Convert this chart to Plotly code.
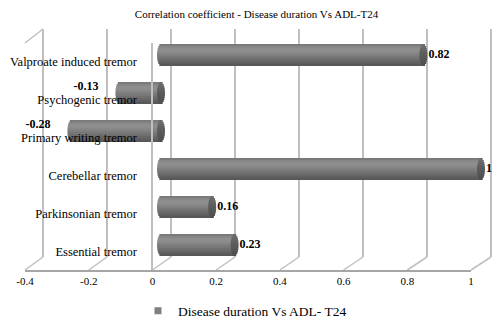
import math
import plotly.graph_objects as go

# ---------------- data ----------------
TITLE = "Correlation coefficient - Disease duration Vs ADL-T24"
SERIES_NAME = "Disease duration Vs ADL- T24"
CATEGORIES = ["Essential tremor", "Parkinsonian tremor", "Cerebellar tremor",
              "Primary writing tremor", "Psychogenic tremor", "Valproate induced tremor"]
VALUES = [0.23, 0.16, 1.0, -0.28, -0.13, 0.82]
VALUE_LABELS = ["0.23", "0.16", "1", "-0.28", "-0.13", "0.82"]
TICK_VALUES = [-0.4, -0.2, 0, 0.2, 0.4, 0.6, 0.8, 1.0]
TICK_LABELS = ["-0.4", "-0.2", "0", "0.2", "0.4", "0.6", "0.8", "1"]

# ---------------- geometry (pixels in the reference window) ----------------
W, H = 500, 322
OX, OY = 8, 8            # page body margin
FONT = "Liberation Serif, Times New Roman, serif"
PX_PER_UNIT = 320.0
BACK_ZERO_PX = 171.0      # x=0 on the back wall
BAR_ZERO_PX = 161.0       # x=0 at bar depth
FRONT_LEFT_PX, FRONT_RIGHT_PX = 25.0, 471.0
BACK_TOP_PX, BACK_BOTTOM_PX = 29.0, 257.0
FRONT_TOP_PX, FRONT_BOTTOM_PX = 43.0, 270.0
CAT0_PX, CAT_STEP_PX = 245.0, 38.0     # bar centre of first category / spacing
LABEL_SHIFT_PX = 7.0


def px(p):
    return (p - OX) / W


def py(p):
    return 1 - (p - OY) / H


def xrange_for(zero_px):
    z = zero_px - OX
    return [-z / PX_PER_UNIT, (W - z) / PX_PER_UNIT]


def yrange_for(cat0_px):
    c = cat0_px - OY
    return [(c - H) / CAT_STEP_PX, c / CAT_STEP_PX]


def back_px(t):
    return BACK_ZERO_PX + PX_PER_UNIT * t


def front_px(t):
    return FRONT_LEFT_PX + (t - TICK_VALUES[0]) * (FRONT_RIGHT_PX - FRONT_LEFT_PX) / (TICK_VALUES[-1] - TICK_VALUES[0])


fig = go.Figure()

# ---------- back wall grid subplot (x / y) ----------
fig.add_trace(go.Scatter(x=[], y=[], xaxis="x", yaxis="y", showlegend=False, hoverinfo="skip"))

# ---------- cylinder bars (x2 / y2) ----------
BAR_THICK = 22.0 / CAT_STEP_PX
N_STRIPES = 11
STRIPE = BAR_THICK / N_STRIPES
CAP_R = 4.0 / PX_PER_UNIT
BODY_COLORS = ["#7a7a7a", "#878787", "#8e8e8e", "#8d8d8d", "#878787", "#7f7f7f",
               "#777777", "#6f6f6f", "#676767", "#5f5f5f", "#585858"]
CAP_COLORS = ["#6a6a6a", "#6a6a6a", "#666666", "#626262", "#5e5e5e", "#5b5b5b",
              "#585858", "#565656", "#535353", "#505050", "#4d4d4d"]

for k in range(N_STRIPES):
    off = BAR_THICK / 2 - (k + 1) * STRIPE
    t = (BAR_THICK / 2 - (k + 0.5) * STRIPE) / (BAR_THICK / 2)
    s = math.sqrt(max(0.0, 1 - t * t))
    starts = [min(0.0, v) - CAP_R * s for v in VALUES]
    lengths = [abs(v) + CAP_R * s for v in VALUES]
    fig.add_trace(go.Bar(
        orientation="h", y=CATEGORIES, x=lengths, base=starts,
        offset=off, width=STRIPE, marker=dict(color=BODY_COLORS[k], line=dict(width=0)),
        xaxis="x2", yaxis="y2", showlegend=False, hoverinfo="skip"))
for k in range(N_STRIPES):
    off = BAR_THICK / 2 - (k + 1) * STRIPE
    t = (BAR_THICK / 2 - (k + 0.5) * STRIPE) / (BAR_THICK / 2)
    s = math.sqrt(max(0.0, 1 - t * t))
    fig.add_trace(go.Bar(
        orientation="h", y=CATEGORIES, x=[2 * CAP_R * s] * len(VALUES),
        base=[max(0.0, v) - CAP_R * s for v in VALUES],
        offset=off, width=STRIPE, marker=dict(color=CAP_COLORS[k], line=dict(width=0)),
        xaxis="x2", yaxis="y2", showlegend=False, hoverinfo="skip"))

# data labels
pos_idx = [i for i, v in enumerate(VALUES) if v >= 0]
neg_idx = [i for i, v in enumerate(VALUES) if v < 0]
fig.add_trace(go.Scatter(
    x=[VALUES[i] for i in pos_idx], y=[CATEGORIES[i] for i in pos_idx],
    text=["<b>%s</b>" % VALUE_LABELS[i] for i in pos_idx], mode="text",
    textposition="middle right", textfont=dict(family=FONT, size=12, color="#000"),
    xaxis="x5", yaxis="y2", showlegend=False, hoverinfo="skip", cliponaxis=False))
fig.add_trace(go.Scatter(
    x=[VALUES[i] for i in neg_idx], y=[CATEGORIES[i] for i in neg_idx],
    text=["<b>%s</b>" % VALUE_LABELS[i] for i in neg_idx], mode="text",
    textposition="top left", textfont=dict(family=FONT, size=12, color="#000"),
    xaxis="x6", yaxis="y2", showlegend=False, hoverinfo="skip", cliponaxis=False))

# legend entry
fig.add_trace(go.Scatter(
    x=[None], y=[None], mode="markers", name=SERIES_NAME,
    marker=dict(symbol="square", size=7, color="#808080"),
    xaxis="x2", yaxis="y2", showlegend=True, hoverinfo="skip"))

# category label axis subplot
fig.add_trace(go.Scatter(x=[], y=[], xaxis="x2", yaxis="y3", showlegend=False, hoverinfo="skip"))
# front axis subplots
fig.add_trace(go.Scatter(x=[], y=[], xaxis="x3", yaxis="y4", showlegend=False, hoverinfo="skip"))
fig.add_trace(go.Scatter(x=[], y=[], xaxis="x4", yaxis="y4", showlegend=False, hoverinfo="skip"))

GRID = "#bfbfbf"
hidden = dict(showgrid=False, zeroline=False, showticklabels=False, showline=False, ticks="",
              automargin=False)

n = len(CATEGORIES)

fig.update_layout(
    template="none",
    width=W, height=H,
    margin=dict(l=0, r=0, t=0, b=0, pad=0),
    paper_bgcolor="white", plot_bgcolor="rgba(0,0,0,0)",
    barmode="overlay",
    font=dict(family=FONT, color="#000"),
    title=dict(text=TITLE, x=px(256.5), xanchor="center", y=1 - 6.0 / H, yanchor="middle",
               xref="paper", yref="container", font=dict(family=FONT, size=11, color="#000")),
    showlegend=True,
    legend=dict(orientation="h", x=px(138), xanchor="left", y=py(311), yanchor="middle",
                font=dict(family=FONT, size=13.5, color="#000"), bgcolor="rgba(0,0,0,0)"),
    # back wall
    xaxis=dict(domain=[0, 1], range=xrange_for(BACK_ZERO_PX), anchor="y",
               tickmode="array", tickvals=TICK_VALUES, showgrid=True, gridcolor=GRID, gridwidth=1.5,
               zeroline=False, showticklabels=False, showline=False, ticks="", automargin=False),
    yaxis=dict(domain=[py(BACK_BOTTOM_PX), py(BACK_TOP_PX)], range=[0, 1], anchor="x", **hidden),
    # bars
    xaxis2=dict(domain=[0, 1], range=xrange_for(BAR_ZERO_PX), anchor="y2", **hidden),
    yaxis2=dict(domain=[0, 1], range=yrange_for(CAT0_PX), anchor="x2", type="category",
                categoryorder="array", categoryarray=CATEGORIES, **hidden),
    # category labels
    yaxis3=dict(overlaying="y2", anchor="free", position=px(137), side="left",
                range=yrange_for(CAT0_PX + LABEL_SHIFT_PX),
                tickmode="array", tickvals=list(range(n)), ticktext=CATEGORIES,
                showgrid=False, zeroline=False, showline=False, ticks="", automargin=False,
                tickfont=dict(family=FONT, size=12.5, color="#000")),
    # data label axes (shifted)
    xaxis5=dict(overlaying="x2", range=xrange_for(BAR_ZERO_PX + 5), anchor="y2", **hidden),
    xaxis6=dict(overlaying="x2", range=xrange_for(BAR_ZERO_PX - 21), anchor="y2", **hidden),
    # front axis
    xaxis3=dict(domain=[px(FRONT_LEFT_PX), px(FRONT_RIGHT_PX)], range=[TICK_VALUES[0], TICK_VALUES[-1]],
                anchor="y4", tickmode="array", tickvals=TICK_VALUES, ticktext=TICK_LABELS,
                showline=True, linecolor="#a6a6a6", linewidth=1.5, showgrid=False, zeroline=False,
                ticks="", automargin=False, tickfont=dict(family=FONT, size=11, color="#000")),
    xaxis4=dict(overlaying="x3", range=[TICK_VALUES[0], TICK_VALUES[-1]], anchor="y4",
                tickmode="array", tickvals=[TICK_VALUES[0], 0], showgrid=True, gridcolor=GRID,
                gridwidth=1.5, zeroline=False, showticklabels=False, showline=False, ticks="",
                automargin=False),
    yaxis4=dict(domain=[py(FRONT_BOTTOM_PX), py(FRONT_TOP_PX)], range=[0, 1], anchor="x3", **hidden),
)

# floor diagonals and left-wall top edge
shapes = []
for t in TICK_VALUES:
    shapes.append(dict(type="line", xref="paper", yref="paper", layer="below",
                       x0=px(back_px(t)), y0=py(BACK_BOTTOM_PX), x1=px(front_px(t)), y1=py(FRONT_BOTTOM_PX),
                       line=dict(color=GRID, width=1.5)))
shapes.append(dict(type="line", xref="paper", yref="paper", layer="below",
                   x0=px(front_px(TICK_VALUES[0])), y0=py(FRONT_TOP_PX),
                   x1=px(back_px(TICK_VALUES[0])), y1=py(BACK_TOP_PX),
                   line=dict(color=GRID, width=1.5)))
fig.update_layout(shapes=shapes)

fig.write_html("out.html")
